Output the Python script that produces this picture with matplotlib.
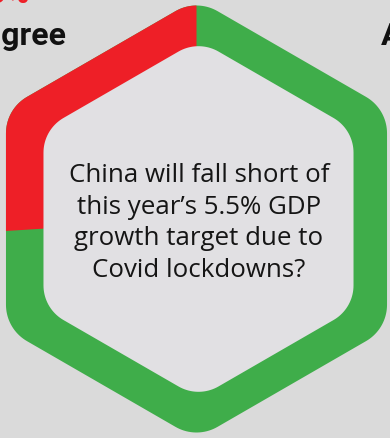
import matplotlib
matplotlib.use("Agg")
import matplotlib.pyplot as plt
import numpy as np
from matplotlib.patches import Polygon, Wedge

# Poll result (percent): disagree shown in red, agree in green
labels = ["Disagree", "Agree"]
shares = [26, 74]
colors = ["#ee1f27", "#3fad4a"]
question = "China will fall short of\nthis year\u2019s 5.5% GDP\ngrowth target due to\nCovid lockdowns?"

W, H = 390, 439
BG = "#dadada"
INNER = "#e1e0e3"


def rounded_hexagon(cx, cy, radius, corner):
    """Pointy-top hexagon with rounded corners, as an array of points."""
    pts = []
    d = radius - corner / np.sin(np.radians(60))
    for k in range(6):
        th = np.radians(90 + 60 * k)
        ccx, ccy = cx + d * np.cos(th), cy + d * np.sin(th)
        for a in np.linspace(th - np.radians(30), th + np.radians(30), 20):
            pts.append((ccx + corner * np.cos(a), ccy + corner * np.sin(a)))
    return np.array(pts)


fig = plt.figure(figsize=(W / 100, H / 100), dpi=100, facecolor=BG)
ax = fig.add_axes([0, 0, 1, 1])
ax.set_xlim(0, W)
ax.set_ylim(0, H)
ax.axis("off")

cx, cy = 196.5, H - 220

outer = Polygon(rounded_hexagon(cx, cy, 220, 42), closed=True,
                facecolor=colors[1], edgecolor="none")
ax.add_patch(outer)

# red share starts at the top and runs counter-clockwise
theta1 = 90
theta2 = 90 + 360 * shares[0] / sum(shares)
red = Wedge((cx, cy), 320, theta1, theta2, facecolor=colors[0], edgecolor="none")
ax.add_patch(red)
red.set_clip_path(outer)

inner = Polygon(rounded_hexagon(198.5, cy, 179, 40), closed=True,
                facecolor=INNER, edgecolor="none")
ax.add_patch(inner)

ax.text(199, H - 223, question, ha="center", va="center", fontsize=18.6,
        family="Open Sans", color="#151515", linespacing=1.36)

# side labels (cut off by the frame)
ax.text(66, H - 45, labels[0], ha="right", va="baseline", fontsize=23,
        family="Roboto", weight="bold", color="#111111")
ax.text(30, H - 3, f"{shares[0]}%", ha="right", va="baseline", fontsize=23,
        family="Roboto", weight="bold", color=colors[0])
ax.text(381, H - 45, labels[1], ha="left", va="baseline", fontsize=23,
        family="Roboto", weight="bold", color="#111111")

fig.savefig("out.png", dpi=100, facecolor=BG)
